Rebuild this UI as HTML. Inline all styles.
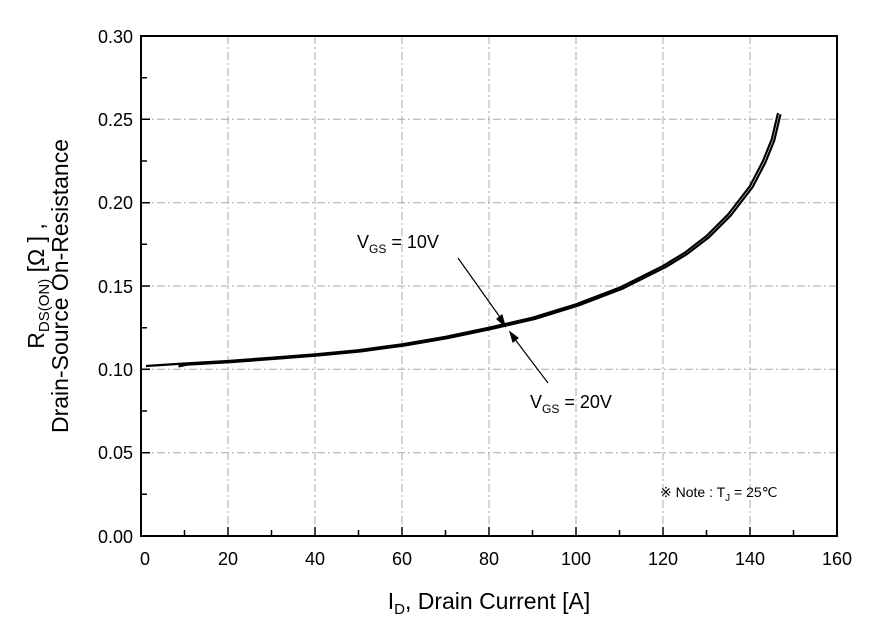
<!DOCTYPE html>
<html><head><style>body{margin:0;background:#fff}</style></head><body>
<svg width="869" height="624" xmlns="http://www.w3.org/2000/svg" font-family="Liberation Sans, sans-serif">
<rect width="869" height="624" fill="#fff"/>
<g stroke="#aaa" stroke-width="1" stroke-dasharray="8,3,2,3">
<line x1="228" y1="36" x2="228" y2="536"/><line x1="315" y1="36" x2="315" y2="536"/><line x1="402" y1="36" x2="402" y2="536"/><line x1="489" y1="36" x2="489" y2="536"/><line x1="576" y1="36" x2="576" y2="536"/><line x1="663" y1="36" x2="663" y2="536"/><line x1="750" y1="36" x2="750" y2="536"/>
<line x1="141" y1="119.3" x2="837" y2="119.3"/><line x1="141" y1="202.7" x2="837" y2="202.7"/><line x1="141" y1="286" x2="837" y2="286"/><line x1="141" y1="369.3" x2="837" y2="369.3"/><line x1="141" y1="452.7" x2="837" y2="452.7"/>
</g>
<rect x="141" y="36" width="696" height="500" fill="none" stroke="#000" stroke-width="2"/>
<g stroke="#000" stroke-width="1.5">
<path d="M184.5 536v-6M271.5 536v-6M358.5 536v-6M445.5 536v-6M532.5 536v-6M619.5 536v-6M706.5 536v-6M793.5 536v-6
M228 536v-9M315 536v-9M402 536v-9M489 536v-9M576 536v-9M663 536v-9M750 536v-9
M141 77.7h6M141 161h6M141 244.3h6M141 327.7h6M141 411h6M141 494.3h6
M141 119.3h9M141 202.7h9M141 286h9M141 369.3h9M141 452.7h9"/>
</g>
<g fill="none" stroke="#000" stroke-width="2.2" stroke-linejoin="round">
<polyline points="146,366 184.5,363.5 228,361 271.5,357.7 315,354.3 358.5,350.2 402,344.3 445.5,336.8 489,327.7 532.5,317.7 576,304.3 619.5,287.7 663,266 684.75,252.7 706.5,236 728.25,214.3 750,186 763,161 771.75,139.3 778,113"/>
<polyline transform="translate(2.5,1.2)" points="176,365.2 184.5,363.5 228,361 271.5,357.7 315,354.3 358.5,350.2 402,344.3 445.5,336.8 489,327.7 532.5,317.7 576,304.3 619.5,287.7 663,266 684.75,252.7 706.5,236 728.25,214.3 750,186 763,161 771.75,139.3 778,113"/>
</g>
<g stroke="#000" stroke-width="1.2" fill="#000">
<line x1="458" y1="258" x2="502" y2="320"/><path d="M505 326 l-8 -7 l5 -4z"/>
<line x1="548" y1="383" x2="514" y2="338"/><path d="M510 332 l8 6 l-5 4z"/>
</g>
<g font-size="18" fill="#000">
<text x="357" y="248">V<tspan font-size="12" dy="5">GS</tspan><tspan dy="-5"> = 10V</tspan></text>
<text x="530" y="408">V<tspan font-size="12" dy="5">GS</tspan><tspan dy="-5"> = 20V</tspan></text>
</g>
<g font-size="18" fill="#000" text-anchor="end">
<text x="133" y="43">0.30</text><text x="133" y="126">0.25</text><text x="133" y="209">0.20</text><text x="133" y="293">0.15</text><text x="133" y="376">0.10</text><text x="133" y="459">0.05</text><text x="133" y="543">0.00</text>
</g>
<g font-size="18" fill="#000" text-anchor="middle">
<text x="145" y="565">0</text><text x="228" y="565">20</text><text x="315" y="565">40</text><text x="402" y="565">60</text><text x="489" y="565">80</text><text x="576" y="565">100</text><text x="663" y="565">120</text><text x="750" y="565">140</text><text x="837" y="565">160</text>
</g>
<text x="489" y="609" font-size="23" text-anchor="middle">I<tspan font-size="15" dy="5">D</tspan><tspan dy="-5">, Drain Current [A]</tspan></text>
<g transform="translate(44,286) rotate(-90)" font-size="23" text-anchor="middle">
<text x="0" y="0">R<tspan font-size="15" dy="5">DS(ON)</tspan><tspan dy="-5"> [Ω ] ,</tspan></text>
<text x="0" y="24">Drain-Source On-Resistance</text>
</g>
<text x="660" y="497" font-size="14">※ Note : T<tspan font-size="10" dy="4">J</tspan><tspan dy="-4"> = 25℃</tspan></text>
</svg>
</body></html>
